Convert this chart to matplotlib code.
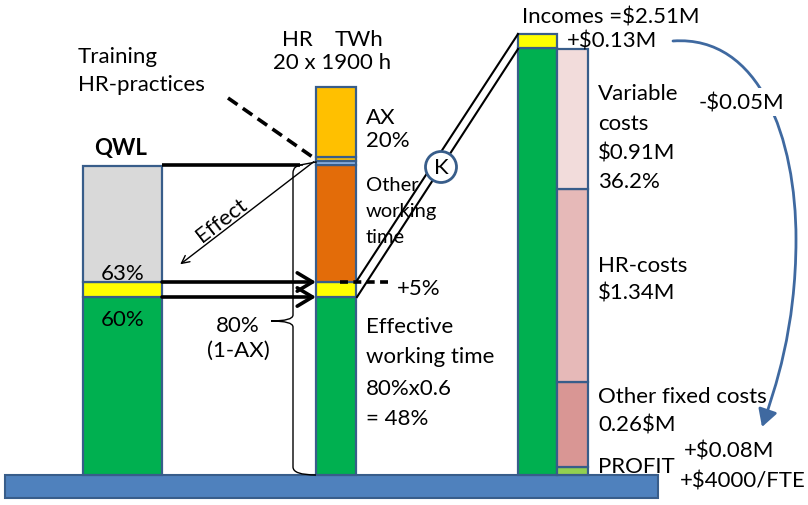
import matplotlib
matplotlib.use("Agg")
import matplotlib.pyplot as plt
from matplotlib.patches import Rectangle, Circle, FancyArrowPatch, PathPatch
from matplotlib.path import Path
import numpy as np

plt.rcParams['font.family'] = ['Lato', 'DejaVu Sans']

# ---------------- data (segment heights, base = 0) -------------
qwl_values = [178, 15, 116]                      # 60% effective, +3% gain, rest
qwl_colors = ["#00B050", "#FFFF00", "#D9D9D9"]
qwl_labels = ["60%", "63%"]

twh_values = [178, 15, 117, 4, 4, 70]            # effective, +5%, other, training, training, AX
twh_colors = ["#00B050", "#FFFF00", "#E36C09", "#8EB4E3", "#FFC000", "#FFC000"]

income_values = [427, 14]                        # incomes, +$0.13M
income_colors = ["#00B050", "#FFFF00"]

cost_values = [8, 85, 193, 140]                  # profit, other fixed, HR, variable
cost_colors = ["#92D050", "#D99694", "#E6B9B8", "#F2DCDB"]

EDGE = "#385D8A"
BLUE = "#4F81BD"
ARC = "#3F69A0"

fig = plt.figure(figsize=(8.08, 5.06), dpi=100)
ax = fig.add_axes([0, 0, 1, 1])
ax.set_xlim(0, 808)
ax.set_ylim(-30, 476)
ax.axis("off")


def Y(yp):
    return 476 - yp


def stack(xc, w, values, colors):
    bottoms = np.concatenate([[0], np.cumsum(values)[:-1]])
    ax.bar([xc] * len(values), values, width=w, bottom=bottoms, color=colors,
           edgecolor=EDGE, linewidth=1.6, zorder=3)


# platform
ax.add_patch(Rectangle((5, -23), 653, 23, facecolor=BLUE, edgecolor=EDGE, lw=1.5, zorder=2))

stack(122.5, 79, qwl_values, qwl_colors)
stack(336, 40, twh_values, twh_colors)
stack(537.5, 39, income_values, income_colors)
stack(572.5, 31, cost_values, cost_colors)

FS = 16


def T(x, yp, s, fs=FS, **kw):
    ax.text(x, Y(yp), s, fontsize=fs, va="baseline", zorder=6, **kw)


# ---- left texts
T(78, 63, "Training")
T(78, 91, "HR-practices")
T(94, 155, "QWL", fontweight="bold")
T(122.5, 280, qwl_labels[1], ha="center")
T(122.5, 326, qwl_labels[0], ha="center")
T(238, 332, "80%", ha="center")
T(238, 357, "(1-AX)", ha="center")

# ---- middle texts
T(282, 46, "HR")
T(335, 46, "TWh")
T(273, 69, "20 x 1900 h")
T(366, 124, "AX")
T(366, 147, "20%")
T(366, 191, "Other", fs=14.5)
T(366, 217, "working", fs=14.5)
T(366, 243, "time", fs=14.5)
T(397, 295, "+5%")
T(366, 333, "Effective")
T(366, 363, "working time")
T(366, 395, "80%x0.6")
T(366, 425, "= 48%")

# ---- right texts
T(522, 23, "Incomes =$2.51M")
T(567, 47, "+$0.13M")
T(598, 100, "Variable")
T(598, 130, "costs")
T(598, 160, "$0.91M")
T(598, 188, "36.2%")
T(598, 272, "HR-costs")
T(598, 300, "$1.34M")
T(598, 403, "Other fixed costs")
T(598, 432, "0.26$M")
T(598, 473, "PROFIT")
T(684, 458, "+$0.08M")
T(680, 488, "+$4000/FTE")

# ---- lines / arrows
# thick line from QWL top
ax.plot([162, 300], [Y(166), Y(166)], color="black", lw=2.6, zorder=4, solid_capstyle="butt")
ax.plot([300, 316], [Y(166), Y(163)], color="black", lw=1.0, zorder=4)
# dashed training line
ax.plot([228, 314], [Y(99), Y(159)], color="black", lw=2.6, dashes=(3.2, 1.8), zorder=4)
# effect arrow
ax.annotate("", xy=(178, Y(267)), xytext=(316, Y(161)),
            arrowprops=dict(arrowstyle="->", lw=1.0, color="black", mutation_scale=14), zorder=4)
ax.text(222, Y(220), "Effect", fontsize=FS, rotation=37.5, ha="center", va="center", zorder=6)
# thick arrows
for yp in (283, 298):
    ax.annotate("", xy=(316, Y(yp)), xytext=(162, Y(yp)),
                arrowprops=dict(arrowstyle="->,head_length=0.5,head_width=0.3", lw=2.6,
                                color="black", mutation_scale=22, shrinkA=0, shrinkB=0), zorder=4)
# double lines to incomes
ax.plot([356, 518], [Y(283), Y(35)], color="black", lw=1.5, zorder=4)
ax.plot([357, 518], [Y(298), Y(50)], color="black", lw=1.5, zorder=4)
# dashed +5% line
ax.plot([340, 388], [Y(283), Y(283)], color="black", lw=2.6, dashes=(2.2, 1.5), zorder=5)
# K circle
ax.add_patch(Circle((441, Y(168)), 15.5, facecolor="white", edgecolor=EDGE, lw=2, zorder=5))
ax.text(441, Y(168), "K", fontsize=FS, ha="center", va="center", zorder=6)

# curly brace
bp = [(303, 166), (293, 166), (293, 174), (293, 316), (293, 322), (271, 322),
      (293, 322), (293, 328), (293, 468), (293, 476), (316, 476)]
verts = [(x, Y(y)) for x, y in bp]
codes = [Path.MOVETO, Path.CURVE3, Path.CURVE3, Path.LINETO, Path.CURVE3, Path.CURVE3,
         Path.CURVE3, Path.CURVE3, Path.LINETO, Path.CURVE3, Path.CURVE3]
ax.add_patch(PathPatch(Path(verts, codes), facecolor="none", edgecolor="black", lw=1.0, zorder=4))

# blue curved arrow (two cubic pieces)
cp = [(673, 42), (760, 36), (796, 140), (796, 240), (796, 330), (775, 390), (762, 428)]
cpath = Path([(x, Y(y)) for x, y in cp],
             [Path.MOVETO] + [Path.CURVE4] * 6)
ax.add_patch(FancyArrowPatch(path=cpath, arrowstyle="-|>,head_length=0.8,head_width=0.45",
                             color=ARC, lw=2, mutation_scale=13, shrinkA=0, shrinkB=0, zorder=4))
ax.text(741, Y(109), "-$0.05M", fontsize=FS, ha="center", va="baseline", zorder=6,
        bbox=dict(facecolor="white", edgecolor="none", pad=3))

fig.savefig("out.png", dpi=100)
